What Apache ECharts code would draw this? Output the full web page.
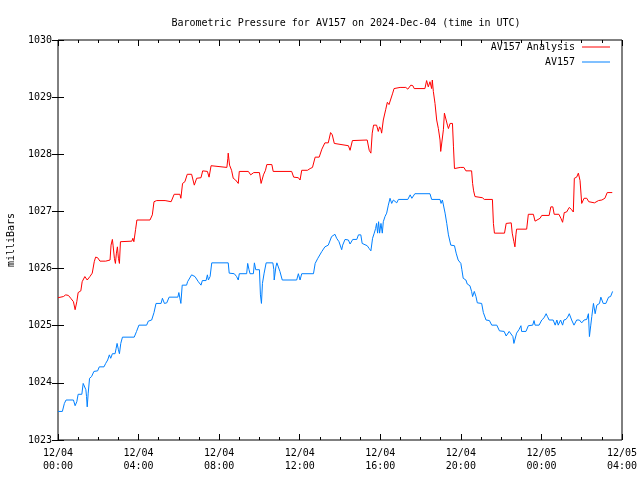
<!DOCTYPE html>
<html>
<head>
<meta charset="utf-8">
<script src="https://cdn.jsdelivr.net/npm/echarts@6/dist/echarts.min.js"></script>
<style>html,body{margin:0;padding:0;background:#fff}#c{width:640px;height:480px}</style>
</head>
<body>
<div id="c"></div>
<script>
const seriesNames = ['AV157 Analysis', 'AV157'];
const xTickLabels = ['12/04\n00:00','12/04\n04:00','12/04\n08:00','12/04\n12:00','12/04\n16:00','12/04\n20:00','12/05\n00:00','12/05\n04:00'];
const yTickValues = [1023,1024,1025,1026,1027,1028,1029,1030];

// minutes since 2024-12-04 00:00 UTC
const analysisMinutes = [0,16,23,31,38,46,51,53,56,60,68,72,80,87,95,102,108,112,118,125,142,145,155,158,162,164,168,171,174,177,180,183,186,220,223,226,231,235,274,281,286,294,319,337,346,363,366,371,378,385,398,406,413,426,431,445,450,456,460,503,506,507,511,517,522,529,537,540,567,574,583,600,605,612,618,622,637,641,696,702,716,721,726,743,751,758,766,778,786,795,805,812,817,823,827,865,870,877,921,927,932,936,940,949,954,958,962,964,969,976,981,986,991,997,1001,1019,1036,1042,1051,1057,1061,1093,1098,1103,1108,1113,1115,1118,1123,1128,1133,1138,1140,1145,1148,1151,1155,1160,1163,1168,1175,1178,1181,1198,1209,1215,1232,1235,1238,1242,1264,1270,1294,1297,1300,1330,1335,1340,1350,1353,1358,1361,1364,1366,1396,1401,1416,1421,1426,1436,1441,1463,1468,1474,1478,1492,1498,1503,1508,1515,1523,1530,1535,1538,1545,1550,1553,1555,1560,1567,1575,1581,1598,1602,1610,1620,1624,1629,1636,1651];
const analysisMbar = [1025.49,1025.51,1025.54,1025.53,1025.48,1025.42,1025.28,1025.25,1025.42,1025.58,1025.61,1025.77,1025.86,1025.80,1025.86,1025.92,1026.12,1026.20,1026.19,1026.13,1026.13,1026.15,1026.15,1026.41,1026.51,1026.41,1026.18,1026.09,1026.27,1026.38,1026.18,1026.09,1026.47,1026.48,1026.53,1026.47,1026.68,1026.85,1026.85,1026.94,1027.17,1027.19,1027.19,1027.17,1027.30,1027.30,1027.23,1027.49,1027.52,1027.65,1027.65,1027.46,1027.58,1027.59,1027.71,1027.70,1027.60,1027.80,1027.77,1027.77,1027.93,1028.02,1027.81,1027.72,1027.58,1027.55,1027.49,1027.70,1027.70,1027.64,1027.68,1027.68,1027.49,1027.64,1027.72,1027.82,1027.82,1027.70,1027.70,1027.60,1027.59,1027.55,1027.72,1027.72,1027.75,1027.77,1027.95,1027.95,1028.09,1028.20,1028.20,1028.38,1028.34,1028.19,1028.16,1028.15,1028.07,1028.24,1028.25,1028.07,1028.02,1028.37,1028.51,1028.51,1028.40,1028.48,1028.43,1028.37,1028.60,1028.78,1028.91,1028.87,1028.89,1029.07,1029.15,1029.17,1029.17,1029.14,1029.21,1029.20,1029.15,1029.15,1029.29,1029.18,1029.27,1029.15,1029.30,1029.10,1028.89,1028.60,1028.45,1028.25,1028.05,1028.05,1028.43,1028.72,1028.73,1028.51,1028.45,1028.54,1028.54,1028.13,1027.75,1027.77,1027.77,1027.71,1027.71,1027.49,1027.36,1027.26,1027.24,1027.21,1027.21,1026.79,1026.62,1026.62,1026.79,1026.80,1026.80,1026.62,1026.47,1026.38,1026.59,1026.69,1026.69,1026.95,1026.95,1026.83,1026.80,1026.88,1026.93,1026.93,1027.08,1027.08,1026.95,1026.95,1026.88,1026.81,1026.98,1026.99,1027.07,1027.03,1026.99,1027.58,1027.60,1027.67,1027.67,1027.54,1027.14,1027.23,1027.23,1027.17,1027.15,1027.14,1027.19,1027.20,1027.19,1027.23,1027.33,1027.33];

const obsMinutes = [0,13,19,24,46,51,53,56,60,71,75,80,83,85,87,90,94,100,107,112,118,123,137,142,148,153,157,162,170,173,176,180,183,187,192,227,234,241,264,269,279,286,292,307,311,317,324,331,357,360,364,366,370,383,386,390,398,403,408,418,426,430,441,445,448,453,458,507,510,525,532,537,540,562,565,569,572,582,585,589,600,603,606,609,614,620,640,643,644,649,652,656,661,668,711,716,721,726,761,766,774,786,795,805,815,825,830,837,845,848,855,865,870,878,890,895,902,906,921,927,932,937,942,946,949,952,955,958,962,966,969,974,979,984,989,994,999,1004,1009,1014,1042,1049,1054,1057,1063,1108,1113,1138,1141,1145,1148,1153,1158,1163,1170,1181,1186,1192,1200,1203,1207,1215,1219,1227,1232,1235,1240,1245,1249,1262,1267,1275,1285,1292,1307,1315,1329,1335,1338,1344,1349,1355,1358,1366,1373,1379,1381,1394,1401,1414,1418,1421,1433,1441,1448,1454,1458,1463,1468,1475,1481,1486,1490,1497,1503,1507,1513,1518,1523,1530,1537,1545,1553,1560,1567,1575,1580,1583,1587,1590,1595,1600,1605,1613,1617,1624,1632,1640,1646,1652];
const obsMbar = [1023.50,1023.50,1023.64,1023.70,1023.70,1023.60,1023.61,1023.67,1023.80,1023.80,1023.99,1023.99,1023.88,1023.76,1023.58,1023.82,1024.08,1024.11,1024.20,1024.21,1024.21,1024.28,1024.28,1024.34,1024.40,1024.49,1024.43,1024.51,1024.51,1024.60,1024.69,1024.58,1024.51,1024.69,1024.80,1024.80,1024.90,1025.01,1025.01,1025.08,1025.10,1025.23,1025.39,1025.39,1025.48,1025.39,1025.40,1025.50,1025.50,1025.58,1025.60,1025.39,1025.71,1025.71,1025.77,1025.80,1025.89,1025.90,1025.86,1025.77,1025.71,1025.79,1025.79,1025.89,1025.80,1025.86,1026.10,1026.10,1025.92,1025.91,1025.86,1025.80,1025.91,1025.91,1026.09,1025.98,1025.91,1025.91,1026.10,1025.98,1025.98,1025.54,1025.39,1025.74,1025.92,1026.10,1026.10,1025.98,1025.80,1026.03,1026.10,1026.10,1025.95,1025.80,1025.80,1025.91,1025.80,1025.91,1025.91,1026.09,1026.18,1026.30,1026.38,1026.41,1026.56,1026.60,1026.53,1026.47,1026.33,1026.41,1026.51,1026.50,1026.43,1026.51,1026.51,1026.59,1026.59,1026.44,1026.40,1026.35,1026.31,1026.53,1026.62,1026.70,1026.79,1026.62,1026.82,1026.62,1026.79,1026.62,1026.82,1026.91,1026.97,1027.11,1027.23,1027.14,1027.20,1027.20,1027.15,1027.21,1027.21,1027.29,1027.23,1027.26,1027.31,1027.31,1027.21,1027.21,1027.14,1027.20,1027.17,1026.97,1026.79,1026.59,1026.41,1026.40,1026.27,1026.15,1026.09,1025.98,1025.83,1025.80,1025.73,1025.70,1025.60,1025.51,1025.60,1025.51,1025.40,1025.39,1025.23,1025.10,1025.09,1025.01,1025.01,1024.91,1024.90,1024.82,1024.80,1024.90,1024.90,1024.81,1024.69,1024.87,1024.93,1025.00,1024.90,1024.90,1025.00,1025.01,1025.09,1025.01,1025.01,1025.10,1025.14,1025.21,1025.16,1025.10,1025.13,1025.10,1025.01,1025.10,1025.01,1025.10,1025.01,1025.10,1025.11,1025.15,1025.21,1025.10,1025.01,1025.10,1025.10,1025.05,1025.10,1025.11,1025.21,1024.81,1025.01,1025.16,1025.39,1025.21,1025.36,1025.39,1025.50,1025.39,1025.39,1025.50,1025.51,1025.60];

const FONT = 'DejaVu Sans Mono';
const FS = 10;
const zip = (a, b) => a.map((t, i) => [t, b[i]]);

const chart = echarts.init(document.getElementById('c'), null, {renderer: 'canvas'});
const tickCommon = {inside: true, length: 6, lineStyle: {color: '#000', width: 1}};
const minorCommon = {show: true, splitNumber: 4, length: 3, lineStyle: {color: '#000', width: 1}};
const xBase = {type: 'value', min: 0, max: 1680, interval: 240, splitLine: {show: false}, axisLine: {show: false}};
const yBase = {type: 'value', min: yTickValues[0], max: yTickValues[yTickValues.length - 1], interval: 1, splitLine: {show: false}, axisLine: {show: false}};

chart.setOption({
  animation: false,
  backgroundColor: '#fff',
  title: {
    text: 'Barometric Pressure for AV157 on 2024-Dec-04 (time in UTC)',
    left: 341, top: 13, textAlign: 'center',
    textStyle: {fontFamily: FONT, fontSize: FS, fontWeight: 'normal', color: '#000'}
  },
  legend: [
    {data: [seriesNames[0]], right: 30, top: 42, padding: 0, orient: 'vertical', align: 'right',
     itemWidth: 28, itemHeight: 1, icon: 'rect', itemGap: 0,
     textStyle: {fontFamily: FONT, fontSize: FS, color: '#000', padding: [0, 2, 0, 0]}},
    {data: [seriesNames[1]], right: 30, top: 57, padding: 0, orient: 'vertical', align: 'right',
     itemWidth: 28, itemHeight: 1, icon: 'rect', itemGap: 0,
     textStyle: {fontFamily: FONT, fontSize: FS, color: '#000', padding: [0, 2, 0, 0]}}
  ],
  grid: {left: 58, right: 18, top: 40, bottom: 40, show: true, borderColor: '#000', borderWidth: 1,
         containLabel: false, outerBoundsMode: 'none'},
  xAxis: [
    Object.assign({}, xBase, {
      position: 'bottom',
      axisTick: tickCommon, minorTick: minorCommon,
      axisLabel: {margin: 7, fontFamily: FONT, fontSize: FS, color: '#000', lineHeight: 13,
        formatter: v => xTickLabels[Math.round(v / 240)]}
    }),
    Object.assign({}, xBase, {
      position: 'top',
      axisTick: tickCommon, minorTick: minorCommon,
      axisLabel: {show: false}
    })
  ],
  yAxis: [
    Object.assign({}, yBase, {
      position: 'left',
      name: 'milliBars', nameLocation: 'middle', nameGap: 42,
      nameTextStyle: {fontFamily: FONT, fontSize: FS, color: '#000'},
      axisTick: tickCommon,
      axisLabel: {margin: 6, fontFamily: FONT, fontSize: FS, color: '#000', formatter: v => String(v)}
    }),
    Object.assign({}, yBase, {
      position: 'right',
      axisTick: tickCommon,
      axisLabel: {show: false}
    })
  ],
  series: [
    {name: seriesNames[0], type: 'line', xAxisIndex: 0, yAxisIndex: 0, symbol: 'none', showSymbol: false,
     color: '#ff0000', lineStyle: {color: '#ff0000', width: 1}, data: zip(analysisMinutes, analysisMbar)},
    {name: seriesNames[1], type: 'line', xAxisIndex: 0, yAxisIndex: 0, symbol: 'none', showSymbol: false,
     color: '#0080ff', lineStyle: {color: '#0080ff', width: 1}, data: zip(obsMinutes, obsMbar)}
  ]
});
</script>
</body>
</html>
